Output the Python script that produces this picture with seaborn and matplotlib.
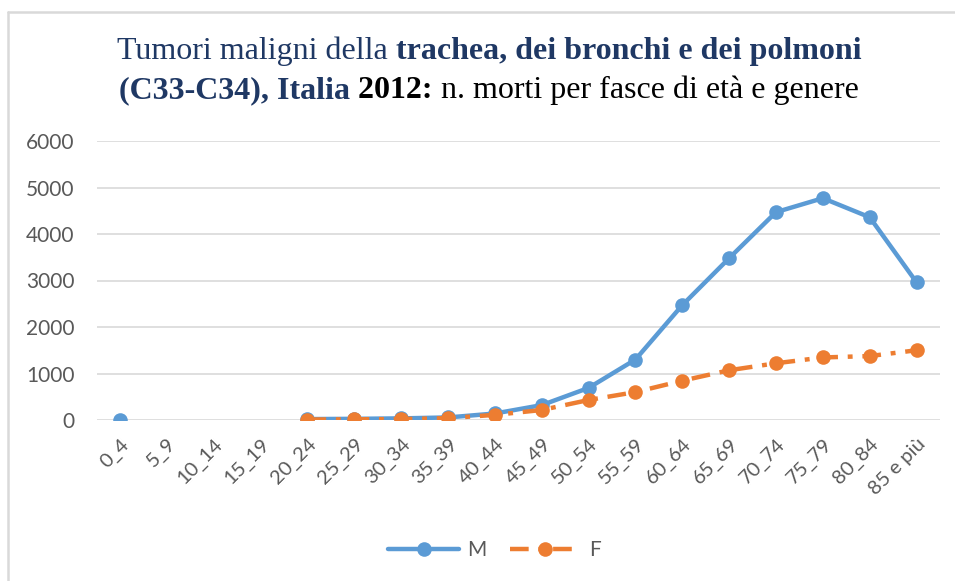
import numpy as np
import pandas as pd
import matplotlib
matplotlib.use("Agg")
import matplotlib.pyplot as plt
from matplotlib.lines import Line2D
import seaborn as sns

# ---- data ----
age_groups = ["0_4", "5_9", "10_14", "15_19", "20_24", "25_29", "30_34", "35_39",
              "40_44", "45_49", "50_54", "55_59", "60_64", "65_69", "70_74",
              "75_79", "80_84", "85 e più"]
deaths_m = [0, np.nan, np.nan, np.nan, 20, 25, 35, 55, 140, 320, 690, 1300,
            2470, 3480, 4470, 4770, 4360, 2960]
deaths_f = [np.nan, np.nan, np.nan, np.nan, 10, 15, 20, 40, 110, 215, 430, 600,
            845, 1070, 1220, 1345, 1375, 1500]
series_labels = ["M", "F"]
y_ticks = [0, 1000, 2000, 3000, 4000, 5000, 6000]

# ---- long-form table ----
rows = []
for lab, vals in zip(series_labels, [deaths_m, deaths_f]):
    seg = 0
    prev_nan = True
    for i, v in enumerate(vals):
        if np.isnan(v):
            prev_nan = True
            continue
        if prev_nan:
            seg += 1
            prev_nan = False
        rows.append({"pos": i, "deaths": v, "sex": lab, "seg": seg})
df = pd.DataFrame(rows)

W, H = 955, 581
DPI = 100
sns.set_theme(style="white")
plt.rcParams["font.family"] = ["Lato", "DejaVu Sans"]

fig = plt.figure(figsize=(W / DPI, H / DPI), dpi=DPI)
ax = fig.add_axes([96.6 / W, (H - 420) / H, (940 - 96.6) / W, (420 - 141) / H])

blue = "#5B9BD5"
orange = "#ED7D31"
dash_f = (4.2, 2.2, 1.1, 2.2)
sns.lineplot(data=df, x="pos", y="deaths", hue="sex", style="sex", units="seg",
             estimator=None, sort=False, ax=ax,
             palette={"M": blue, "F": orange},
             dashes={"M": "", "F": dash_f},
             markers={"M": "o", "F": "o"},
             markersize=10.5, markeredgewidth=0, linewidth=3.2, legend=False)

ax.set_xlim(-0.5, len(age_groups) - 0.5)
ax.set_ylim(0, 6000)
ax.set_yticks(y_ticks)
ax.set_yticklabels([str(t) for t in y_ticks])
ax.set_xticks(range(len(age_groups)))
ax.set_xticklabels(age_groups, rotation=45, ha="right", va="top", rotation_mode="anchor")
ax.set_xlabel("")
ax.set_ylabel("")
ax.grid(axis="y", color="#D9D9D9", linewidth=1.2)
ax.grid(axis="x", visible=False)
ax.set_axisbelow(True)
for s in ax.spines.values():
    s.set_visible(False)
ax.tick_params(axis="y", length=0, pad=16, labelsize=15, labelcolor="#595959")
ax.tick_params(axis="x", length=0, pad=11, labelsize=14.5, labelcolor="#595959")

# ---- legend ----
handles = [
    Line2D([], [], color=blue, linewidth=3.2, marker="o", markersize=10.5, markeredgewidth=0),
    Line2D([], [], color=orange, linewidth=3.2, marker="o", markersize=10.5, markeredgewidth=0,
           dashes=dash_f),
]
fig.legend(handles, series_labels, loc="center", bbox_to_anchor=((477.5 + 17) / W, (H - 550) / H),
           ncol=2, frameon=False, handlelength=3.4, handletextpad=0.4, columnspacing=1.1,
           prop={"family": "Lato", "size": 15}, labelcolor="#595959")

# ---- border lines (top and left) ----
fig.add_artist(Line2D([8 / W, 1], [1 - 12 / H, 1 - 12 / H], transform=fig.transFigure,
                      color="#D9D9D9", linewidth=1.8))
fig.add_artist(Line2D([8 / W, 8 / W], [0, 1 - 12 / H], transform=fig.transFigure,
                      color="#D9D9D9", linewidth=1.8))

# ---- title with mixed styles ----
title_blue = "#1F3864"
fs = 23
renderer = fig.canvas.get_renderer()

def mixed_line(pieces, y_px):
    texts, widths = [], []
    for s, weight, color in pieces:
        t = fig.text(0, 1 - y_px / H, s, fontsize=fs, fontweight=weight, color=color,
                     family="Liberation Serif", va="baseline", ha="left")
        bb = t.get_window_extent(renderer)
        texts.append(t)
        widths.append(bb.width)
    total = sum(widths)
    x = 489 - total / 2
    for t, w in zip(texts, widths):
        t.set_x(x / W)
        x += w

mixed_line([("Tumori maligni della", "normal", title_blue),
            (" trachea, dei bronchi e dei polmoni", "bold", title_blue)], 59)
mixed_line([("(C33-C34), Italia", "bold", title_blue),
            (" 2012:", "bold", "black"),
            (" n. morti per fasce di età e genere", "normal", "black")], 98)

fig.savefig("out.png", dpi=DPI, facecolor="white")
